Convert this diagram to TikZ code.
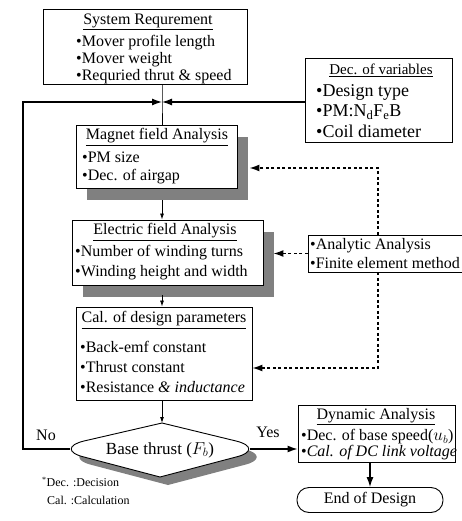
\documentclass[tikz,border=0pt]{standalone}
\usepackage{fontspec}
\setmainfont{Liberation Serif}
\usetikzlibrary{arrows.meta,shadows}
\tikzset{%
   box/.style={draw=black, line width=0.9pt, fill=white, inner sep=0pt},
   shbox/.style={box, drop shadow={shadow xshift=11pt, shadow yshift=-12pt, fill=black!50, opacity=1}},
   hd/.style={inner sep=0pt, font=\fontsize{16}{18}\selectfont},
   itm/.style={anchor=west, inner sep=0pt, font=\fontsize{16}{18}\selectfont},
   flow/.style={line width=0.8pt, -{Latex[length=6pt,width=4pt]}},
   bigflow/.style={line width=1.3pt, -{Latex[length=10pt,width=7pt]}},
   dashflow/.style={line width=1.4pt, dash pattern=on 3pt off 2.5pt, -{Latex[length=10pt,width=7pt]}},
}
\newcommand\basepath{(162,423) -- (236,441) .. controls (253,445) and (253,453) .. (236,457) -- (160,477) -- (84,457) .. controls (67,453) and (67,445) .. (84,441) -- cycle}

\begin{document}
\begin{tikzpicture}[x=1pt, y=-1pt]
   \useasboundingbox (0,0) rectangle (462,521);
   % boxes
   \node[box, minimum width=204pt, minimum height=75pt] (req) at (145,46.5) {};
   \node[box, minimum width=147pt, minimum height=84pt] (dec) at (378.5,100) {};
   \node[shbox, minimum width=161pt, minimum height=63pt] (mag) at (156.5,156.5) {};
   \node[shbox, minimum width=191pt, minimum height=65pt] (ele) at (167.5,252.5) {};
   \node[box, minimum width=176pt, minimum height=93pt] (cal) at (164,353.5) {};
   \node[box, minimum width=154pt, minimum height=37pt] (ana) at (385,253.5) {};
   \node[box, minimum width=157pt, minimum height=57pt] (dyn) at (376.5,433.5) {};
   \node[box, rounded corners=12pt, minimum width=146pt, minimum height=25pt] (end) at (370,500) {};
   % texts
   \node[hd] (reqh) at (148,22) {\underline{System Requrement}};
   \node[itm] (req1) at (76,43) {•Mover profile length};
   \node[itm] (req2) at (76,60) {•Mover weight};
   \node[itm] (req3) at (76,77) {•Requried thrut \& speed};
   \node[hd, font=\fontsize{15}{17}\selectfont] (dech) at (381,70) {\underline{Dec. of variables}};
   \node[itm, font=\fontsize{18}{20}\selectfont] (dec1) at (316,92) {•Design type};
   \node[itm, font=\fontsize{18}{20}\selectfont] (dec2) at (316,112) {•PM:N\textsubscript{d}F\textsubscript{e}B};
   \node[itm, font=\fontsize{18}{20}\selectfont] (dec3) at (316,131) {•Coil diameter};
   \node[hd] (magh) at (157,137) {\underline{Magnet field Analysis}};
   \node[itm] (mag1) at (82,157) {•PM size};
   \node[itm] (mag2) at (82,177) {•Dec. of airgap};
   \node[hd] (eleh) at (165,232) {\underline{Electric field Analysis}};
   \node[itm] (ele1) at (75,253) {•Number of winding turns};
   \node[itm] (ele2) at (75,273) {•Winding height and width};
   \node[hd] (calh) at (164,320) {\underline{Cal. of design parameters}};
   \node[itm] (cal1) at (80,347) {•Back-emf constant};
   \node[itm] (cal2) at (80,367) {•Thrust constant};
   \node[itm] (cal3) at (80,387) {•Resistance \textit{\& inductance}};
   \node[itm] (ana1) at (310,246) {•Analytic Analysis};
   \node[itm] (ana2) at (310,263) {•Finite element method};
   \node[hd] (dynh) at (376,417) {\underline{Dynamic Analysis}};
   \node[itm] (dyn1) at (301,437) {•Dec. of base speed($u_b$)};
   \node[itm] (dyn2) at (301,453) {•\textit{Cal. of DC link voltage}};
   \node[hd] (endt) at (370,500) {End of Design};
   % decision
   \fill[black!50, shift={(8,8)}] \basepath;
   \draw[line width=0.9pt, fill=white] \basepath;
   \node[hd, font=\fontsize{17}{19}\selectfont] (base) at (160,450) {Base thrust ($F_b$)};
   \coordinate (bt) at (162,423);
   \coordinate (bl) at (70,449);
   \coordinate (br) at (250,449);
   % connectors
   \coordinate (j) at (162,102);
   \coordinate (lc) at (23,102);
   \draw[line width=0.9pt] (req.south -| j) -- (j) -- (mag.north -| j);
   \draw[bigflow] (dec.west |- j) -- (j);
   \draw[bigflow] (bl) -| (lc) -- (j);
   \draw[flow] ([yshift=-12pt]mag.south -| j) -- (ele.north -| j);
   \draw[flow] ([yshift=-10pt]ele.south -| j) -- (cal.north -| j);
   \draw[flow] (cal.south -| bt) -- (bt);
   \draw[bigflow] (br) -- (br -| dyn.west);
   \draw[bigflow] (end.north |- dyn.south) -- (end.north);
   \node[hd] (no) at (46,435) {No};
   \node[hd] (yes) at (268,432) {Yes};
   % dashed feedback from analysis
   \coordinate (du) at (378,168);
   \coordinate (dd) at (378,368);
   \draw[dashflow] (ana.north -| du) -- (du) -- ([xshift=12pt]mag.east |- du);
   \draw[dashflow] (ana.west) -- ([xshift=10pt]ele.east |- ana.west);
   \draw[dashflow] (ana.south -| dd) -- (dd) -- (cal.east |- dd);
   % legend
   \node[itm, font=\fontsize{12}{14}\selectfont] (lg1) at (42,482) {\textsuperscript{*}Dec. :Decision};
   \node[itm, font=\fontsize{12}{14}\selectfont] (lg2) at (47,500) {Cal. :Calculation};
\end{tikzpicture}
\end{document}
